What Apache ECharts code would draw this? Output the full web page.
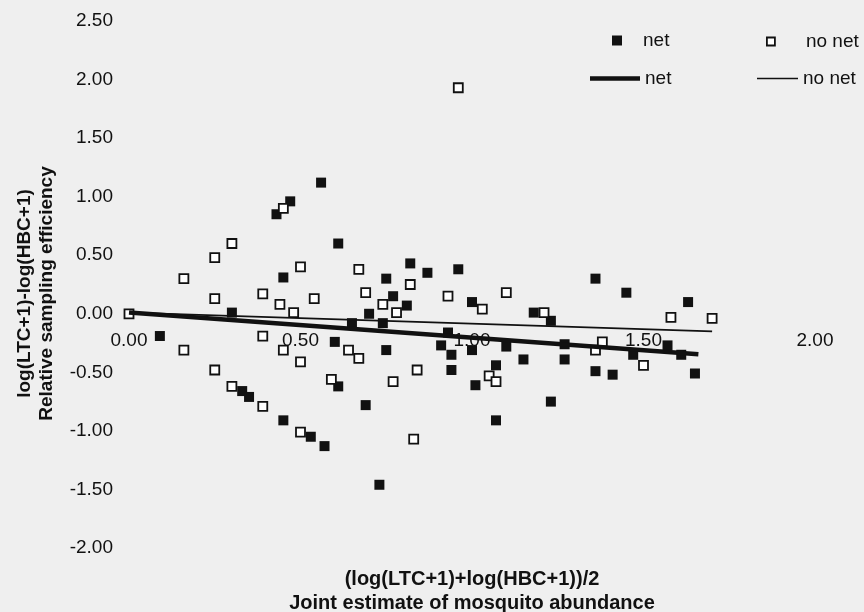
<!DOCTYPE html>
<html>
<head>
<meta charset="utf-8">
<script src="https://cdn.jsdelivr.net/npm/echarts@6/dist/echarts.min.js"></script>
<style>html,body{margin:0;padding:0;background:#efefef}#c{width:864px;height:612px}</style>
</head>
<body>
<div id="c"></div>
<script>
// x: joint abundance estimate, y: relative sampling efficiency
const netX = [0.09,0.30,0.33,0.35,0.43,0.45,0.45,0.47,0.56,0.61,0.82,0.75,0.87,0.77,0.81,0.70,0.65,0.74,0.60,0.75,0.61,0.69,0.53,0.57,0.73,0.96,1.00,1.18,1.23,1.36,0.93,0.91,0.94,1.00,1.10,1.15,1.27,1.27,0.94,1.07,1.01,1.23,1.07,1.36,1.45,1.63,1.47,1.57,1.61,1.41,1.65];
const netY = [-0.19,0.01,-0.66,-0.71,0.85,0.31,-0.91,0.96,1.12,0.60,0.43,0.30,0.35,0.15,0.07,0.00,-0.08,-0.08,-0.24,-0.31,-0.62,-0.78,-1.05,-1.13,-1.46,0.38,0.10,0.01,-0.06,0.30,-0.16,-0.27,-0.35,-0.31,-0.28,-0.39,-0.26,-0.39,-0.48,-0.44,-0.61,-0.75,-0.91,-0.49,0.18,0.10,-0.35,-0.27,-0.35,-0.52,-0.51];
const noNetX = [0.00,0.16,0.16,0.25,0.25,0.25,0.30,0.30,0.39,0.39,0.39,0.44,0.45,0.45,0.50,0.54,0.48,0.67,0.69,0.82,0.74,0.78,0.50,0.64,0.67,0.84,0.77,0.59,0.50,0.83,0.96,0.93,1.03,1.10,1.21,1.05,1.07,1.36,1.38,1.58,1.70,1.50];
const noNetY = [0.00,0.30,-0.31,0.48,0.13,-0.48,0.60,-0.62,0.17,-0.19,-0.79,0.08,-0.31,0.90,0.40,0.13,0.01,0.38,0.18,0.25,0.08,0.01,-0.41,-0.31,-0.38,-0.48,-0.58,-0.56,-1.01,-1.07,1.93,0.15,0.04,0.18,0.01,-0.53,-0.58,-0.31,-0.24,-0.03,-0.04,-0.44];
// fitted trend lines (endpoints)
const netLineX = [0, 1.66];
const netLineY = [0.01, -0.345];
const noNetLineX = [0, 1.70];
const noNetLineY = [0.01, -0.15];
const xTicks = {min: 0, max: 2, step: 0.5};
const yTicks = {min: -2, max: 2.5, step: 0.5};
const xTitle = '(log(LTC+1)+log(HBC+1))/2\nJoint estimate of mosquito abundance';
const yTitle = 'log(LTC+1)-log(HBC+1)\nRelative sampling efficiency';

const zip = (a, b) => a.map((v, i) => [v, b[i]]);
const FONT = "'Liberation Sans', Arial, sans-serif";
const INK = '#111';
const GRID = {left: 129, right: 49, top: 21, bottom: 64};
const plotH = 612 - GRID.top - GRID.bottom;
// the x axis sits where y = 0 (axis offset from the bottom edge of the grid)
const zeroOffset = -Math.round(plotH * (0 - yTicks.min) / (yTicks.max - yTicks.min));

const chart = echarts.init(document.getElementById('c'), null, {renderer: 'canvas'});
const legendBase = {
  orient: 'horizontal', padding: 0, itemGap: 0, selectedMode: false,
  formatter: n => n.trim()
};
const lt = pad => ({fontFamily: FONT, fontSize: 19, color: INK, padding: [0, 0, 0, pad]});
chart.setOption({
  backgroundColor: '#efefef',
  animation: false,
  grid: Object.assign({containLabel: false, outerBoundsMode: 'none'}, GRID),
  legend: [
    Object.assign({}, legendBase, {data: [{name: 'net', icon: 'rect'}], left: 612, top: 31, itemWidth: 10, itemHeight: 10,
      itemStyle: {color: INK, borderWidth: 0}, textStyle: lt(16)}),
    Object.assign({}, legendBase, {data: [{name: 'no net', icon: 'rect'}], left: 766, top: 32, itemWidth: 8, itemHeight: 8,
      itemStyle: {color: '#fff', borderColor: INK, borderWidth: 1.8}, textStyle: lt(26)}),
    Object.assign({}, legendBase, {data: [{name: 'net ', icon: 'rect'}], left: 590, top: 69, itemWidth: 50, itemHeight: 4.5,
      symbolKeepAspect: false, itemStyle: {color: INK, borderWidth: 0}, textStyle: lt(0)}),
    Object.assign({}, legendBase, {data: [{name: 'no net ', icon: 'rect'}], left: 757, top: 69, itemWidth: 41, itemHeight: 1.6,
      symbolKeepAspect: false, itemStyle: {color: INK, borderWidth: 0}, textStyle: lt(0)})
  ],
  xAxis: {
    type: 'value', min: xTicks.min, max: xTicks.max, interval: xTicks.step,
    position: 'bottom', offset: zeroOffset,
    axisLine: {show: false, onZero: false}, axisTick: {show: false}, splitLine: {show: false},
    axisLabel: {fontFamily: FONT, fontSize: 19, color: INK, margin: 17, formatter: v => v.toFixed(2), showMinLabel: true, showMaxLabel: true},
    name: xTitle, nameLocation: 'middle', nameGap: 253,
    nameTextStyle: {fontFamily: FONT, fontSize: 20, fontWeight: 'bold', color: INK, lineHeight: 24}
  },
  yAxis: {
    type: 'value', min: yTicks.min, max: yTicks.max, interval: yTicks.step,
    axisLine: {show: false, onZero: false}, axisTick: {show: false}, splitLine: {show: false},
    axisLabel: {fontFamily: FONT, fontSize: 19, color: INK, margin: 16, formatter: v => v.toFixed(2)},
    name: yTitle, nameLocation: 'middle', nameGap: 71,
    nameTextStyle: {fontFamily: FONT, fontSize: 19, fontWeight: 'bold', color: INK, lineHeight: 22, padding: [0, 18, 0, 0]}
  },
  series: [
    {name: 'net', type: 'scatter', symbol: 'rect', symbolSize: 10, z: 2,
     itemStyle: {color: INK, opacity: 1}, data: zip(netX, netY)},
    {name: 'no net', type: 'scatter', symbol: 'rect', symbolSize: 9, z: 2,
     itemStyle: {color: '#fff', borderColor: INK, borderWidth: 1.8, opacity: 1}, data: zip(noNetX, noNetY)},
    {name: 'net ', type: 'line', symbol: 'none', z: 3, silent: true,
     itemStyle: {color: INK}, lineStyle: {color: INK, width: 4.5}, data: zip(netLineX, netLineY)},
    {name: 'no net ', type: 'line', symbol: 'none', z: 3, silent: true,
     itemStyle: {color: INK}, lineStyle: {color: INK, width: 1.6}, data: zip(noNetLineX, noNetLineY)}
  ]
});
</script>
</body>
</html>
